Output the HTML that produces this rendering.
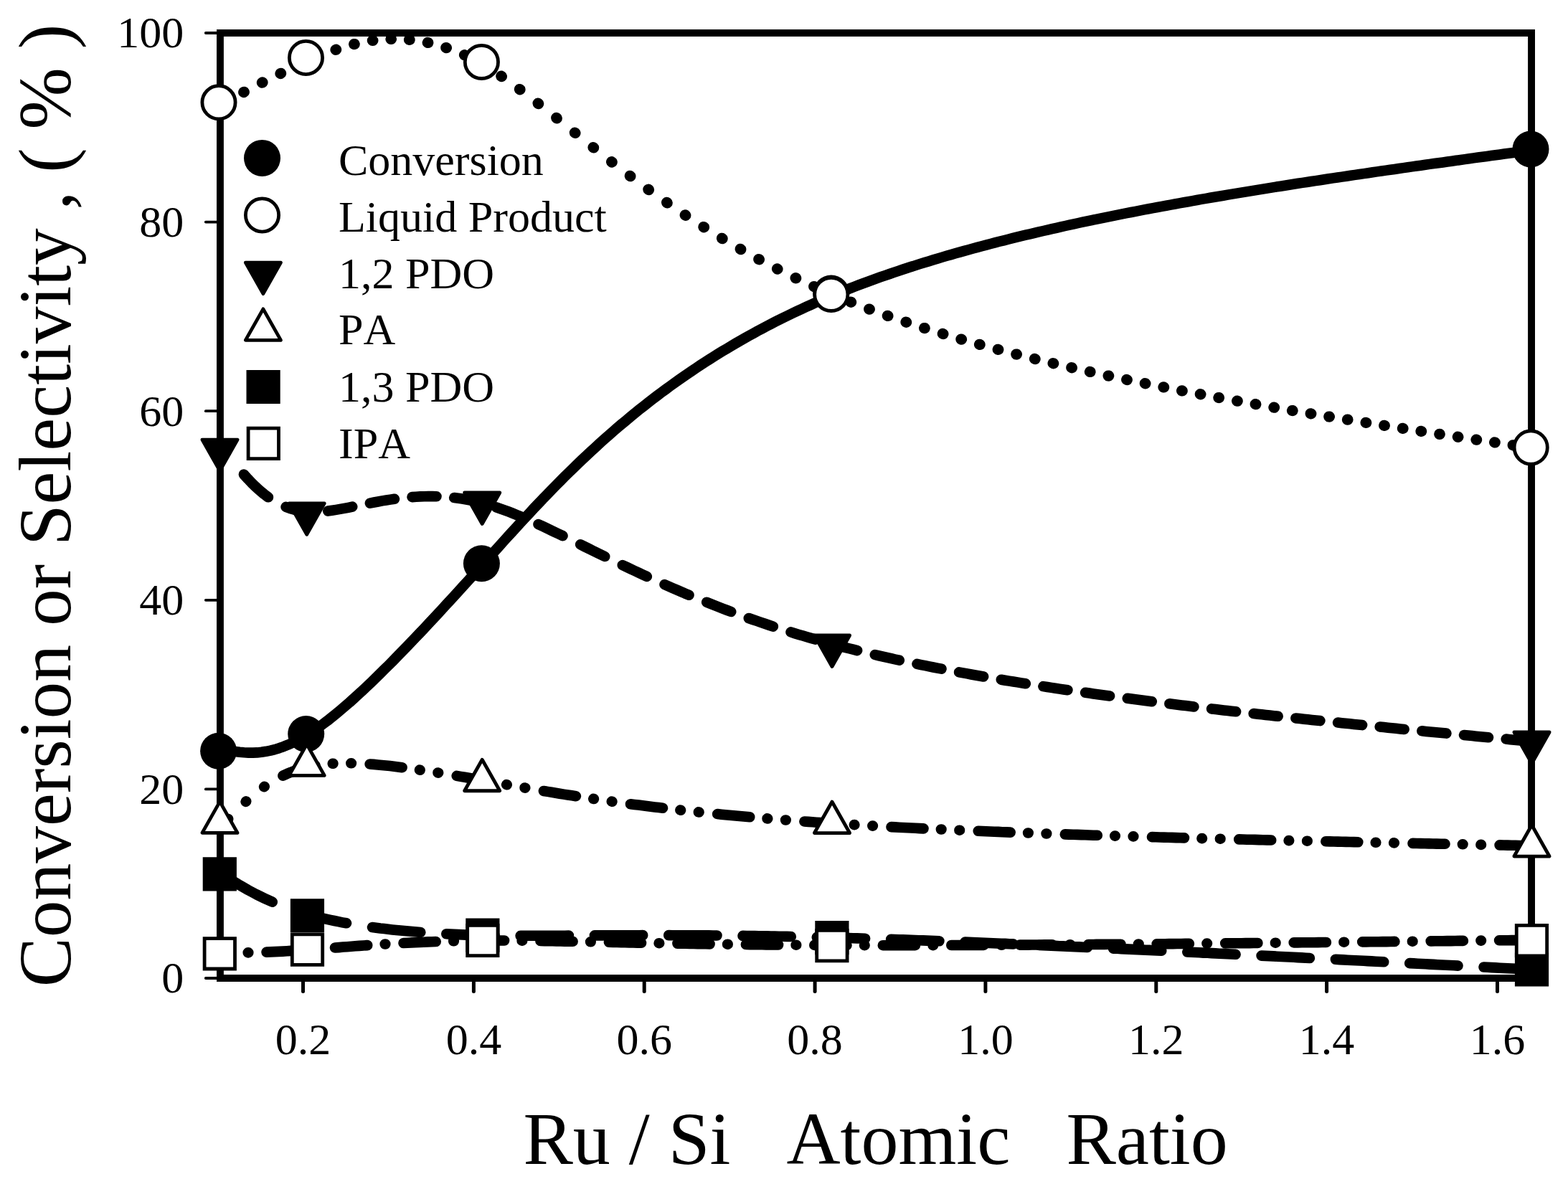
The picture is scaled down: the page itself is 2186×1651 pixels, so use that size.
<!DOCTYPE html>
<html lang="en"><head><meta charset="utf-8"><title>Conversion or Selectivity vs Ru / Si Atomic Ratio</title>
<style>html,body{margin:0;padding:0;background:#fff;}body{width:2186px;height:1651px;overflow:hidden;}svg{display:block;}text{font-kerning:none;font-family:"Liberation Serif",serif;white-space:pre;fill:#000;}</style></head><body>
<svg width="2186" height="1651" viewBox="0 0 2186 1651">
<rect width="2186" height="1651" fill="#fff"/>
<g id="frame">
<rect x="306.95" y="46.0" width="1828.10" height="1318.00" fill="none" stroke="#000" stroke-width="9.9"/>
</g>
<g id="y-axis">
<line x1="286.8" y1="1364.0" x2="306.95" y2="1364.0" stroke="#000" stroke-width="3.8" stroke-linecap="round"/>
<text x="256.3" y="1384.3" font-size="62" text-anchor="end">0</text>
<line x1="286.8" y1="1100.4" x2="306.95" y2="1100.4" stroke="#000" stroke-width="3.8" stroke-linecap="round"/>
<text x="256.3" y="1120.7" font-size="62" text-anchor="end">20</text>
<line x1="286.8" y1="836.8" x2="306.95" y2="836.8" stroke="#000" stroke-width="3.8" stroke-linecap="round"/>
<text x="256.3" y="857.1" font-size="62" text-anchor="end">40</text>
<line x1="286.8" y1="573.2" x2="306.95" y2="573.2" stroke="#000" stroke-width="3.8" stroke-linecap="round"/>
<text x="256.3" y="593.5" font-size="62" text-anchor="end">60</text>
<line x1="286.8" y1="309.6" x2="306.95" y2="309.6" stroke="#000" stroke-width="3.8" stroke-linecap="round"/>
<text x="256.3" y="329.9" font-size="62" text-anchor="end">80</text>
<line x1="286.8" y1="46.0" x2="306.95" y2="46.0" stroke="#000" stroke-width="3.8" stroke-linecap="round"/>
<text x="256.3" y="66.3" font-size="62" text-anchor="end">100</text>
</g>
<g id="x-axis">
<line x1="422.5" y1="1364.0" x2="422.5" y2="1382.6" stroke="#000" stroke-width="5.0" stroke-linecap="round"/>
<text x="422.5" y="1470" font-size="62" text-anchor="middle">0.2</text>
<line x1="660.4" y1="1364.0" x2="660.4" y2="1382.6" stroke="#000" stroke-width="5.0" stroke-linecap="round"/>
<text x="660.4" y="1470" font-size="62" text-anchor="middle">0.4</text>
<line x1="898.2" y1="1364.0" x2="898.2" y2="1382.6" stroke="#000" stroke-width="5.0" stroke-linecap="round"/>
<text x="898.2" y="1470" font-size="62" text-anchor="middle">0.6</text>
<line x1="1136.1" y1="1364.0" x2="1136.1" y2="1382.6" stroke="#000" stroke-width="5.0" stroke-linecap="round"/>
<text x="1136.1" y="1470" font-size="62" text-anchor="middle">0.8</text>
<line x1="1373.9" y1="1364.0" x2="1373.9" y2="1382.6" stroke="#000" stroke-width="5.0" stroke-linecap="round"/>
<text x="1373.9" y="1470" font-size="62" text-anchor="middle">1.0</text>
<line x1="1611.8" y1="1364.0" x2="1611.8" y2="1382.6" stroke="#000" stroke-width="5.0" stroke-linecap="round"/>
<text x="1611.8" y="1470" font-size="62" text-anchor="middle">1.2</text>
<line x1="1849.6" y1="1364.0" x2="1849.6" y2="1382.6" stroke="#000" stroke-width="5.0" stroke-linecap="round"/>
<text x="1849.6" y="1470" font-size="62" text-anchor="middle">1.4</text>
<line x1="2087.5" y1="1364.0" x2="2087.5" y2="1382.6" stroke="#000" stroke-width="5.0" stroke-linecap="round"/>
<text x="2087.5" y="1470" font-size="62" text-anchor="middle">1.6</text>
</g>
<g id="titles">
<text x="1220.6" y="1622.5" font-size="104" text-anchor="middle" xml:space="preserve">Ru / Si   Atomic   Ratio</text>
<text transform="translate(97.5,705) rotate(-90)" font-size="103.5" text-anchor="middle" xml:space="preserve">Conversion or Selectivity , ( % )</text>
</g>
<g id="series-conv">
<path d="M303.5,1043.5 L309.6,1044.8 L315.7,1046.0 L321.9,1047.1 L328.0,1048.0 L334.1,1048.8 L340.2,1049.3 L346.4,1049.6 L352.5,1049.6 L358.6,1049.4 L364.7,1048.8 L370.8,1047.8 L377.0,1046.6 L383.1,1045.1 L389.2,1043.2 L395.3,1041.1 L401.5,1038.6 L407.6,1035.9 L413.7,1032.9 L419.8,1029.6 L425.9,1026.0 L432.1,1022.2 L438.2,1018.2 L444.3,1014.0 L450.4,1009.5 L456.6,1004.9 L462.7,1000.1 L468.8,995.1 L474.9,990.0 L481.0,984.8 L487.2,979.5 L493.3,974.0 L499.4,968.4 L505.5,962.8 L511.7,957.0 L517.8,951.2 L523.9,945.3 L530.0,939.3 L536.1,933.2 L542.3,927.1 L548.4,921.0 L554.5,914.7 L560.6,908.4 L566.7,902.1 L572.9,895.7 L579.0,889.3 L585.1,882.9 L591.2,876.4 L597.4,869.8 L603.5,863.3 L609.6,856.7 L615.7,850.1 L621.8,843.4 L628.0,836.8 L634.1,830.1 L640.2,823.4 L646.3,816.6 L652.5,809.9 L658.6,803.1 L664.7,796.3 L670.8,789.5 L676.9,782.7 L683.1,775.9 L689.2,769.1 L695.3,762.3 L701.4,755.5 L707.6,748.7 L713.7,742.0 L719.8,735.3 L725.9,728.6 L732.0,722.0 L738.2,715.4 L744.3,708.8 L750.4,702.4 L756.5,695.9 L762.7,689.6 L768.8,683.2 L774.9,677.0 L781.0,670.8 L787.1,664.7 L793.3,658.6 L799.4,652.7 L805.5,646.7 L811.6,640.9 L817.8,635.1 L823.9,629.4 L830.0,623.8 L836.1,618.2 L842.2,612.7 L848.4,607.3 L854.5,601.9 L860.6,596.6 L866.7,591.4 L872.9,586.3 L879.0,581.2 L885.1,576.2 L891.2,571.2 L897.3,566.4 L903.5,561.5 L909.6,556.8 L915.7,552.1 L921.8,547.5 L928.0,543.0 L934.1,538.5 L940.2,534.1 L946.3,529.8 L952.4,525.5 L958.6,521.2 L964.7,517.1 L970.8,513.0 L976.9,508.9 L983.1,504.9 L989.2,501.0 L995.3,497.1 L1001.4,493.3 L1007.5,489.6 L1013.7,485.9 L1019.8,482.2 L1025.9,478.6 L1032.0,475.1 L1038.1,471.6 L1044.3,468.2 L1050.4,464.8 L1056.5,461.4 L1062.6,458.2 L1068.8,454.9 L1074.9,451.7 L1081.0,448.6 L1087.1,445.5 L1093.2,442.5 L1099.4,439.5 L1105.5,436.5 L1111.6,433.6 L1117.7,430.8 L1123.9,427.9 L1130.0,425.2 L1136.1,422.4 L1142.2,419.8 L1148.3,417.1 L1154.5,414.5 L1160.6,412.0 L1166.7,409.4 L1172.8,407.0 L1179.0,404.5 L1185.1,402.1 L1191.2,399.7 L1197.3,397.4 L1203.4,395.1 L1209.6,392.8 L1215.7,390.6 L1221.8,388.4 L1227.9,386.2 L1234.1,384.1 L1240.2,382.0 L1246.3,379.9 L1252.4,377.8 L1258.5,375.8 L1264.7,373.8 L1270.8,371.8 L1276.9,369.9 L1283.0,367.9 L1289.2,366.0 L1295.3,364.2 L1301.4,362.3 L1307.5,360.5 L1313.6,358.6 L1319.8,356.8 L1325.9,355.1 L1332.0,353.3 L1338.1,351.6 L1344.3,349.9 L1350.4,348.2 L1356.5,346.5 L1362.6,344.9 L1368.7,343.2 L1374.9,341.6 L1381.0,340.0 L1387.1,338.4 L1393.2,336.8 L1399.4,335.3 L1405.5,333.7 L1411.6,332.2 L1417.7,330.7 L1423.8,329.2 L1430.0,327.7 L1436.1,326.3 L1442.2,324.8 L1448.3,323.4 L1454.4,322.0 L1460.6,320.6 L1466.7,319.2 L1472.8,317.8 L1478.9,316.4 L1485.1,315.0 L1491.2,313.7 L1497.3,312.4 L1503.4,311.0 L1509.5,309.7 L1515.7,308.4 L1521.8,307.1 L1527.9,305.9 L1534.0,304.6 L1540.2,303.3 L1546.3,302.1 L1552.4,300.8 L1558.5,299.6 L1564.6,298.4 L1570.8,297.2 L1576.9,296.0 L1583.0,294.8 L1589.1,293.6 L1595.3,292.4 L1601.4,291.3 L1607.5,290.1 L1613.6,289.0 L1619.7,287.8 L1625.9,286.7 L1632.0,285.6 L1638.1,284.5 L1644.2,283.4 L1650.4,282.3 L1656.5,281.2 L1662.6,280.1 L1668.7,279.0 L1674.8,277.9 L1681.0,276.9 L1687.1,275.8 L1693.2,274.7 L1699.3,273.7 L1705.5,272.7 L1711.6,271.6 L1717.7,270.6 L1723.8,269.6 L1729.9,268.6 L1736.1,267.6 L1742.2,266.6 L1748.3,265.6 L1754.4,264.6 L1760.6,263.6 L1766.7,262.6 L1772.8,261.6 L1778.9,260.6 L1785.0,259.7 L1791.2,258.7 L1797.3,257.7 L1803.4,256.8 L1809.5,255.8 L1815.7,254.9 L1821.8,254.0 L1827.9,253.0 L1834.0,252.1 L1840.1,251.2 L1846.3,250.2 L1852.4,249.3 L1858.5,248.4 L1864.6,247.5 L1870.8,246.6 L1876.9,245.7 L1883.0,244.8 L1889.1,243.9 L1895.2,243.0 L1901.4,242.1 L1907.5,241.2 L1913.6,240.3 L1919.7,239.4 L1925.8,238.5 L1932.0,237.6 L1938.1,236.7 L1944.2,235.9 L1950.3,235.0 L1956.5,234.1 L1962.6,233.3 L1968.7,232.4 L1974.8,231.5 L1980.9,230.7 L1987.1,229.8 L1993.2,228.9 L1999.3,228.1 L2005.4,227.2 L2011.6,226.4 L2017.7,225.5 L2023.8,224.7 L2029.9,223.8 L2036.0,223.0 L2042.2,222.1 L2048.3,221.3 L2054.4,220.4 L2060.5,219.6 L2066.7,218.7 L2072.8,217.9 L2078.9,217.1 L2085.0,216.2 L2091.1,215.4 L2097.3,214.5 L2103.4,213.7 L2109.5,212.9 L2115.6,212.0 L2121.8,211.2 L2127.9,210.3 L2134.0,209.5" fill="none" stroke="#000" stroke-width="14.6" stroke-linecap="round" stroke-linejoin="round"/>
<circle cx="304.60" cy="1047.30" r="25.5" fill="#000"/>
<circle cx="426.70" cy="1023.50" r="25.5" fill="#000"/>
<circle cx="671.40" cy="785.70" r="25.5" fill="#000"/>
<circle cx="1158.80" cy="409.00" r="25.5" fill="#000"/>
<circle cx="2134.00" cy="208.00" r="25.5" fill="#000"/>
</g>
<g id="series-liq">
<path d="M314.1,142.6 L314.7,142.3 M339.7,128.6 L340.3,128.3 M365.4,115.2 L366.0,114.9 M391.0,102.6 L391.6,102.3 M416.7,90.7 L417.3,90.4 M442.3,79.4 L442.9,79.1 M468.0,69.4 L468.6,69.2 M493.6,61.6 L494.2,61.5 M519.3,56.5 L519.9,56.5 M544.9,54.4 L545.5,54.4 M570.5,55.3 L571.1,55.4 M596.2,59.4 L596.8,59.5 M621.8,66.5 L622.4,66.7 M647.5,76.7 L648.1,77.0 M673.1,90.1 L673.7,90.4 M698.8,106.2 L699.4,106.6 M724.4,124.5 L725.0,124.9 M750.1,144.1 L750.7,144.6 M775.7,164.4 L776.3,164.9 M801.4,185.0 L802.0,185.5 M827.0,205.5 L827.6,206.0 M852.6,225.7 L853.2,226.1 M878.3,245.3 L878.9,245.7 M903.9,264.2 L904.5,264.7 M929.6,282.4 L930.2,282.9 M955.2,299.9 L955.8,300.3 M980.9,316.5 L981.5,316.9 M1006.5,332.3 L1007.1,332.7 M1032.2,347.3 L1032.8,347.7 M1057.8,361.5 L1058.4,361.8 M1083.5,374.9 L1084.0,375.2 M1109.1,387.6 L1109.7,387.9 M1134.7,399.5 L1135.3,399.7 M1160.4,410.6 L1161.0,410.9 M1186.0,421.1 L1186.6,421.3 M1211.7,431.0 L1212.3,431.2 M1237.3,440.3 L1237.9,440.5 M1263.0,449.1 L1263.6,449.3 M1288.6,457.5 L1289.2,457.6 M1314.3,465.4 L1314.9,465.6 M1339.9,473.0 L1340.5,473.2 M1365.5,480.3 L1366.1,480.5 M1391.2,487.3 L1391.8,487.4 M1416.8,494.0 L1417.4,494.1 M1442.5,500.4 L1443.1,500.6 M1468.1,506.6 L1468.7,506.8 M1493.8,512.6 L1494.4,512.8 M1519.4,518.4 L1520.0,518.5 M1545.1,524.0 L1545.7,524.1 M1570.7,529.4 L1571.3,529.6 M1596.3,534.7 L1596.9,534.8 M1622.0,539.8 L1622.6,540.0 M1647.6,544.8 L1648.2,545.0 M1673.3,549.7 L1673.9,549.8 M1698.9,554.5 L1699.5,554.6 M1724.6,559.1 L1725.2,559.2 M1750.2,563.6 L1750.8,563.7 M1775.9,568.1 L1776.5,568.2 M1801.5,572.5 L1802.1,572.6 M1827.2,576.8 L1827.8,576.9 M1852.8,581.0 L1853.4,581.1 M1878.4,585.2 L1879.0,585.2 M1904.1,589.3 L1904.7,589.4 M1929.7,593.3 L1930.3,593.4 M1955.4,597.3 L1956.0,597.4 M1981.0,601.3 L1981.6,601.4 M2006.7,605.3 L2007.3,605.3 M2032.3,609.2 L2032.9,609.3 M2058.0,613.1 L2058.6,613.2 M2083.6,616.9 L2084.2,617.0 M2109.2,620.8 L2109.8,620.9 M2134.9,624.7 L2135.0,624.7" fill="none" stroke="#000" stroke-width="15.2" stroke-linecap="round" stroke-linejoin="round"/>
<circle cx="305.00" cy="142.80" r="23.1" fill="#fff" stroke="#000" stroke-width="4.8"/>
<circle cx="426.50" cy="80.45" r="23.1" fill="#fff" stroke="#000" stroke-width="4.8"/>
<circle cx="671.40" cy="86.40" r="23.1" fill="#fff" stroke="#000" stroke-width="4.8"/>
<circle cx="1158.80" cy="410.40" r="23.1" fill="#fff" stroke="#000" stroke-width="4.8"/>
<circle cx="2134.20" cy="624.00" r="23.1" fill="#fff" stroke="#000" stroke-width="4.8"/>
</g>
<g id="series-pdo12">
<path d="M309.8,623.6 L315.2,630.8 M339.9,661.5 L345.6,667.8 L351.2,673.7 L356.9,679.3 L362.6,684.4 L368.2,689.0 L373.9,693.3 M398.6,706.9 L404.2,708.9 L409.9,710.6 L415.6,711.9 L421.2,712.9 L426.9,713.6 L432.6,714.0 M457.2,712.6 L462.9,711.8 L468.6,710.9 L474.2,709.9 L479.9,708.9 L485.6,707.8 L491.2,706.6 M515.9,701.6 L521.5,700.5 L527.2,699.5 L532.9,698.4 L538.5,697.5 L544.2,696.6 L549.9,695.8 M574.5,693.1 L580.2,692.7 L585.9,692.4 L591.5,692.2 L597.2,692.1 L602.9,692.1 L608.5,692.2 M633.2,694.1 L638.9,694.8 L644.5,695.6 L650.2,696.6 L655.9,697.7 L661.5,698.9 L667.2,700.2 M691.9,707.3 L697.5,709.3 L703.2,711.3 L708.9,713.4 L714.5,715.6 L720.2,717.9 L725.9,720.3 M750.5,731.1 L756.2,733.7 L761.9,736.4 L767.5,739.1 L773.2,741.8 L778.9,744.5 L784.5,747.2 M809.2,759.3 L814.8,762.1 L820.5,764.9 L826.2,767.7 L831.8,770.5 L837.5,773.3 L843.2,776.0 M867.8,788.0 L873.5,790.7 L879.2,793.4 L884.8,796.0 L890.5,798.7 L896.2,801.3 L901.8,803.9 M926.5,815.1 L932.2,817.6 L937.8,820.1 L943.5,822.5 L949.2,824.9 L954.8,827.4 L960.5,829.7 M985.2,839.8 L990.8,842.1 L996.5,844.3 L1002.2,846.5 L1007.8,848.7 L1013.5,850.9 L1019.2,853.0 M1043.8,862.0 L1049.5,864.0 L1055.2,865.9 L1060.8,867.9 L1066.5,869.8 L1072.2,871.7 L1077.8,873.6 M1102.5,881.4 L1108.1,883.2 L1113.8,884.9 L1119.5,886.6 L1125.1,888.3 L1130.8,889.9 L1136.5,891.6 M1161.1,898.4 L1166.8,899.9 L1172.5,901.4 L1178.1,902.8 L1183.8,904.3 L1189.5,905.7 L1195.1,907.1 M1219.8,913.0 L1225.5,914.4 L1231.1,915.7 L1236.8,916.9 L1242.5,918.2 L1248.1,919.5 L1253.8,920.7 M1278.5,925.9 L1284.1,927.1 L1289.8,928.2 L1295.5,929.4 L1301.1,930.5 L1306.8,931.6 L1312.5,932.7 M1337.1,937.4 L1342.8,938.4 L1348.5,939.4 L1354.1,940.5 L1359.8,941.5 L1365.5,942.5 L1371.1,943.5 M1395.8,947.7 L1401.4,948.7 L1407.1,949.6 L1412.8,950.5 L1418.4,951.4 L1424.1,952.4 L1429.8,953.3 M1454.4,957.1 L1460.1,958.0 L1465.8,958.9 L1471.4,959.7 L1477.1,960.6 L1482.8,961.4 L1488.4,962.2 M1513.1,965.8 L1518.8,966.6 L1524.4,967.4 L1530.1,968.2 L1535.8,969.0 L1541.4,969.7 L1547.1,970.5 M1571.8,973.8 L1577.4,974.6 L1583.1,975.3 L1588.8,976.0 L1594.4,976.8 L1600.1,977.5 L1605.8,978.2 M1630.4,981.3 L1636.1,982.0 L1641.8,982.7 L1647.4,983.4 L1653.1,984.1 L1658.8,984.8 L1664.4,985.5 M1689.1,988.4 L1694.7,989.0 L1700.4,989.7 L1706.1,990.4 L1711.7,991.0 L1717.4,991.7 L1723.1,992.3 M1747.7,995.1 L1753.4,995.7 L1759.1,996.3 L1764.7,997.0 L1770.4,997.6 L1776.1,998.2 L1781.7,998.8 M1806.4,1001.5 L1812.1,1002.1 L1817.7,1002.7 L1823.4,1003.3 L1829.1,1003.9 L1834.7,1004.5 L1840.4,1005.1 M1865.1,1007.6 L1870.7,1008.2 L1876.4,1008.8 L1882.1,1009.3 L1887.7,1009.9 L1893.4,1010.5 L1899.1,1011.1 M1923.7,1013.5 L1929.4,1014.1 L1935.1,1014.7 L1940.7,1015.2 L1946.4,1015.8 L1952.1,1016.4 L1957.7,1016.9 M1982.4,1019.3 L1988.0,1019.9 L1993.7,1020.4 L1999.4,1021.0 L2005.0,1021.5 L2010.7,1022.1 L2016.4,1022.6 M2041.0,1025.0 L2046.7,1025.6 L2052.4,1026.1 L2058.0,1026.7 L2063.7,1027.2 L2069.4,1027.7 L2075.0,1028.3 M2099.7,1030.6 L2105.4,1031.2 L2111.0,1031.7 L2116.7,1032.3 L2122.4,1032.8 L2128.0,1033.3 L2133.7,1033.9" fill="none" stroke="#000" stroke-width="14.6" stroke-linecap="round" stroke-linejoin="round"/>
<polygon points="306.50,656.55 331.10,613.05 281.90,613.05" fill="#000" stroke="#000" stroke-width="4.8" stroke-linejoin="round"/>
<polygon points="427.70,745.35 452.30,701.85 403.10,701.85" fill="#000" stroke="#000" stroke-width="4.8" stroke-linejoin="round"/>
<polygon points="672.20,730.45 696.80,686.95 647.60,686.95" fill="#000" stroke="#000" stroke-width="4.8" stroke-linejoin="round"/>
<polygon points="1160.00,929.45 1184.60,885.95 1135.40,885.95" fill="#000" stroke="#000" stroke-width="4.8" stroke-linejoin="round"/>
<polygon points="2135.50,1064.45 2160.10,1020.95 2110.90,1020.95" fill="#000" stroke="#000" stroke-width="4.8" stroke-linejoin="round"/>
</g>
<g id="series-pa">
<path d="M309.8,1150.8 L314.0,1146.4 L318.2,1142.0 M342.6,1117.9 L343.2,1117.4 M368.1,1097.2 L368.7,1096.8 M394.4,1081.7 L400.0,1079.1 L405.6,1076.8 L411.3,1074.7 L416.9,1072.8 L422.5,1071.2 L428.1,1069.7 L433.8,1068.5 L439.4,1067.5 M463.8,1064.8 L464.4,1064.7 M489.3,1064.3 L489.9,1064.3 M515.6,1065.5 L521.2,1065.9 L526.8,1066.4 L532.4,1066.9 L538.1,1067.5 L543.7,1068.1 L549.3,1068.8 L554.9,1069.4 L560.6,1070.2 M585.0,1073.6 L585.6,1073.7 M610.5,1077.5 L611.1,1077.6 M636.7,1081.9 L642.3,1082.9 L648.0,1083.8 L653.6,1084.8 L659.2,1085.8 L664.8,1086.8 L670.5,1087.8 L676.1,1088.8 L681.7,1089.7 M706.1,1094.1 L706.7,1094.2 M731.6,1098.5 L732.2,1098.6 M757.9,1103.0 L763.5,1103.9 L769.1,1104.8 L774.8,1105.7 L780.4,1106.7 L786.0,1107.6 L791.6,1108.5 L797.3,1109.3 L802.9,1110.2 M827.3,1113.9 L827.9,1114.0 M852.8,1117.6 L853.4,1117.7 M879.0,1121.2 L884.7,1121.9 L890.3,1122.6 L895.9,1123.3 L901.5,1124.1 L907.2,1124.8 L912.8,1125.4 L918.4,1126.1 L924.0,1126.8 M948.4,1129.6 L949.0,1129.7 M973.9,1132.4 L974.5,1132.5 M1000.2,1135.1 L1005.8,1135.7 L1011.4,1136.2 L1017.1,1136.7 L1022.7,1137.3 L1028.3,1137.8 L1033.9,1138.3 L1039.6,1138.8 L1045.2,1139.3 M1069.6,1141.4 L1070.2,1141.5 M1095.1,1143.5 L1095.7,1143.5 M1121.4,1145.5 L1127.0,1145.9 L1132.6,1146.3 L1138.2,1146.7 L1143.9,1147.1 L1149.5,1147.5 L1155.1,1147.8 L1160.7,1148.2 L1166.4,1148.6 M1190.8,1150.1 L1191.4,1150.1 M1216.3,1151.6 L1216.9,1151.6 M1242.5,1153.1 L1248.1,1153.4 L1253.8,1153.7 L1259.4,1154.0 L1265.0,1154.2 L1270.6,1154.5 L1276.3,1154.8 L1281.9,1155.1 L1287.5,1155.4 M1311.9,1156.5 L1312.5,1156.5 M1337.4,1157.7 L1338.0,1157.7 M1363.7,1158.8 L1369.3,1159.0 L1374.9,1159.3 L1380.6,1159.5 L1386.2,1159.7 L1391.8,1159.9 L1397.4,1160.2 L1403.1,1160.4 L1408.7,1160.6 M1433.1,1161.5 L1433.7,1161.5 M1458.6,1162.5 L1459.2,1162.5 M1484.8,1163.4 L1490.5,1163.6 L1496.1,1163.7 L1501.7,1163.9 L1507.3,1164.1 L1513.0,1164.3 L1518.6,1164.5 L1524.2,1164.7 L1529.8,1164.8 M1554.2,1165.6 L1554.8,1165.6 M1579.7,1166.4 L1580.3,1166.4 M1606.0,1167.1 L1611.6,1167.3 L1617.2,1167.5 L1622.9,1167.6 L1628.5,1167.8 L1634.1,1167.9 L1639.8,1168.1 L1645.4,1168.3 L1651.0,1168.4 M1675.4,1169.1 L1676.0,1169.1 M1700.9,1169.7 L1701.5,1169.7 M1727.2,1170.4 L1732.8,1170.5 L1738.4,1170.7 L1744.0,1170.8 L1749.7,1170.9 L1755.3,1171.1 L1760.9,1171.2 L1766.5,1171.4 L1772.2,1171.5 M1796.6,1172.1 L1797.2,1172.1 M1822.1,1172.7 L1822.7,1172.7 M1848.3,1173.3 L1853.9,1173.4 L1859.6,1173.5 L1865.2,1173.6 L1870.8,1173.8 L1876.4,1173.9 L1882.1,1174.0 L1887.7,1174.1 L1893.3,1174.3 M1917.7,1174.8 L1918.3,1174.8 M1943.2,1175.3 L1943.8,1175.4 M1969.5,1175.9 L1975.1,1176.0 L1980.7,1176.1 L1986.4,1176.2 L1992.0,1176.4 L1997.6,1176.5 L2003.2,1176.6 L2008.9,1176.7 L2014.5,1176.8 M2038.9,1177.3 L2039.5,1177.3 M2064.4,1177.9 L2065.0,1177.9 M2090.6,1178.4 L2096.2,1178.5 L2101.8,1178.6 L2107.4,1178.7 L2113.0,1178.8 L2118.6,1179.0 L2124.1,1179.1 L2129.7,1179.2 L2135.3,1179.3" fill="none" stroke="#000" stroke-width="14.6" stroke-linecap="round" stroke-linejoin="round"/>
<polygon points="306.50,1117.85 331.10,1161.35 281.90,1161.35" fill="#fff" stroke="#000" stroke-width="4.8" stroke-linejoin="round"/>
<polygon points="427.70,1037.85 452.30,1081.35 403.10,1081.35" fill="#fff" stroke="#000" stroke-width="4.8" stroke-linejoin="round"/>
<polygon points="672.20,1059.25 696.80,1102.75 647.60,1102.75" fill="#fff" stroke="#000" stroke-width="4.8" stroke-linejoin="round"/>
<polygon points="1160.00,1118.05 1184.60,1161.55 1135.40,1161.55" fill="#fff" stroke="#000" stroke-width="4.8" stroke-linejoin="round"/>
<polygon points="2135.50,1150.55 2160.10,1194.05 2110.90,1194.05" fill="#fff" stroke="#000" stroke-width="4.8" stroke-linejoin="round"/>
</g>
<g id="series-pdo13">
<path d="M312.4,1220.8 L318.0,1224.4 L323.6,1227.9 L329.2,1231.3 L334.8,1234.7 L340.4,1237.9 L346.0,1241.1 L351.7,1244.1 L357.3,1247.1 L362.9,1249.9 L368.5,1252.6 L374.1,1255.2 L379.7,1257.7 M415.7,1271.1 L421.3,1272.8 L426.9,1274.4 L432.5,1276.0 L438.1,1277.5 L443.7,1278.9 L449.4,1280.3 L455.0,1281.6 L460.6,1282.8 L466.2,1284.0 L471.8,1285.2 L477.4,1286.3 L483.0,1287.3 M519.0,1293.0 L524.6,1293.7 L530.2,1294.5 L535.8,1295.1 L541.4,1295.8 L547.0,1296.4 L552.6,1297.0 L558.3,1297.6 L563.9,1298.1 L569.5,1298.6 L575.1,1299.1 L580.7,1299.6 L586.3,1300.0 M622.3,1302.3 L627.9,1302.6 L633.5,1302.9 L639.1,1303.1 L644.7,1303.4 L650.3,1303.6 L655.9,1303.7 L661.6,1303.9 L667.2,1304.1 L672.8,1304.2 L678.4,1304.3 L684.0,1304.4 L689.6,1304.5 M725.6,1304.8 L731.2,1304.8 L736.8,1304.8 L742.4,1304.8 L748.0,1304.8 L753.6,1304.8 L759.2,1304.8 L764.9,1304.8 L770.5,1304.8 L776.1,1304.7 L781.7,1304.7 L787.3,1304.7 L792.9,1304.6 M828.9,1304.4 L834.5,1304.4 L840.1,1304.4 L845.7,1304.3 L851.3,1304.3 L856.9,1304.3 L862.5,1304.2 L868.2,1304.2 L873.8,1304.2 L879.4,1304.2 L885.0,1304.2 L890.6,1304.2 L896.2,1304.1 M932.2,1304.1 L937.8,1304.2 L943.4,1304.2 L949.0,1304.2 L954.6,1304.2 L960.2,1304.2 L965.8,1304.3 L971.5,1304.3 L977.1,1304.3 L982.7,1304.4 L988.3,1304.4 L993.9,1304.5 L999.5,1304.5 M1035.5,1304.9 L1041.1,1305.0 L1046.7,1305.1 L1052.3,1305.1 L1057.9,1305.2 L1063.5,1305.3 L1069.2,1305.4 L1074.8,1305.5 L1080.4,1305.6 L1086.0,1305.7 L1091.6,1305.8 L1097.2,1305.9 L1102.8,1306.0 M1138.8,1306.9 L1144.4,1307.0 L1150.0,1307.1 L1155.6,1307.3 L1161.2,1307.4 L1166.8,1307.6 L1172.4,1307.7 L1178.1,1307.9 L1183.7,1308.0 L1189.3,1308.2 L1194.9,1308.4 L1200.5,1308.5 L1206.1,1308.7 M1242.1,1309.9 L1247.7,1310.1 L1253.3,1310.3 L1258.9,1310.4 L1264.5,1310.6 L1270.1,1310.8 L1275.8,1311.0 L1281.4,1311.2 L1287.0,1311.4 L1292.6,1311.6 L1298.2,1311.8 L1303.8,1312.1 L1309.4,1312.3 M1345.4,1313.6 L1351.0,1313.9 L1356.6,1314.1 L1362.2,1314.3 L1367.8,1314.5 L1373.4,1314.8 L1379.1,1315.0 L1384.7,1315.2 L1390.3,1315.5 L1395.9,1315.7 L1401.5,1315.9 L1407.1,1316.2 L1412.7,1316.4 M1448.7,1317.9 L1454.3,1318.2 L1459.9,1318.4 L1465.5,1318.7 L1471.1,1318.9 L1476.7,1319.2 L1482.3,1319.4 L1488.0,1319.7 L1493.6,1319.9 L1499.2,1320.2 L1504.8,1320.4 L1510.4,1320.7 L1516.0,1320.9 M1552.0,1322.6 L1557.6,1322.8 L1563.2,1323.1 L1568.8,1323.4 L1574.4,1323.6 L1580.0,1323.9 L1585.7,1324.1 L1591.3,1324.4 L1596.9,1324.7 L1602.5,1324.9 L1608.1,1325.2 L1613.7,1325.5 L1619.3,1325.7 M1655.3,1327.5 L1660.9,1327.8 L1666.5,1328.0 L1672.1,1328.3 L1677.7,1328.6 L1683.3,1328.8 L1688.9,1329.1 L1694.6,1329.4 L1700.2,1329.7 L1705.8,1329.9 L1711.4,1330.2 L1717.0,1330.5 L1722.6,1330.8 M1758.6,1332.6 L1764.2,1332.9 L1769.8,1333.1 L1775.4,1333.4 L1781.0,1333.7 L1786.6,1334.0 L1792.2,1334.3 L1797.9,1334.5 L1803.5,1334.8 L1809.1,1335.1 L1814.7,1335.4 L1820.3,1335.7 L1825.9,1336.0 M1861.9,1337.8 L1867.5,1338.1 L1873.1,1338.4 L1878.7,1338.7 L1884.3,1339.0 L1889.9,1339.2 L1895.6,1339.5 L1901.2,1339.8 L1906.8,1340.1 L1912.4,1340.4 L1918.0,1340.7 L1923.6,1341.0 L1929.2,1341.3 M1965.2,1343.1 L1970.8,1343.4 L1976.4,1343.7 L1982.0,1344.0 L1987.6,1344.3 L1993.2,1344.6 L1998.8,1344.9 L2004.5,1345.2 L2010.1,1345.5 L2015.7,1345.7 L2021.3,1346.0 L2026.9,1346.3 L2032.5,1346.6 M2068.5,1348.5 L2074.1,1348.8 L2079.7,1349.1 L2085.2,1349.4 L2090.8,1349.7 L2096.4,1350.0 L2101.9,1350.3 L2107.5,1350.5 L2113.1,1350.8 L2118.7,1351.1 L2124.2,1351.4 L2129.8,1351.7 L2135.4,1352.0" fill="none" stroke="#000" stroke-width="14.6" stroke-linecap="round" stroke-linejoin="round"/>
<polygon points="285.10,1197.70 327.50,1197.70 327.50,1240.10 285.10,1240.10" fill="#000" stroke="#000" stroke-width="4.8" stroke-linejoin="miter"/>
<polygon points="407.25,1255.55 449.65,1255.55 449.65,1297.95 407.25,1297.95" fill="#000" stroke="#000" stroke-width="4.8" stroke-linejoin="miter"/>
<polygon points="651.65,1283.00 694.05,1283.00 694.05,1325.40 651.65,1325.40" fill="#000" stroke="#000" stroke-width="4.8" stroke-linejoin="miter"/>
<polygon points="1138.70,1286.50 1181.10,1286.50 1181.10,1328.90 1138.70,1328.90" fill="#000" stroke="#000" stroke-width="4.8" stroke-linejoin="miter"/>
<polygon points="2114.30,1330.80 2156.70,1330.80 2156.70,1373.20 2114.30,1373.20" fill="#000" stroke="#000" stroke-width="4.8" stroke-linejoin="miter"/>
</g>
<g id="series-ipa">
<path d="M306.3,1328.8 L311.3,1328.8 L316.2,1328.7 L321.2,1328.7 M345.7,1328.4 L346.3,1328.4 M371.5,1327.6 L377.1,1327.4 L382.8,1327.1 L388.4,1326.9 L394.1,1326.6 L399.8,1326.3 L405.4,1325.9 L411.1,1325.6 L416.7,1325.2 M441.2,1323.5 L441.8,1323.4 M467.0,1321.5 L472.6,1321.1 L478.3,1320.6 L483.9,1320.2 L489.6,1319.8 L495.2,1319.3 L500.9,1318.9 L506.5,1318.5 L512.2,1318.1 M536.7,1316.5 L537.3,1316.5 M562.5,1315.0 L568.1,1314.7 L573.8,1314.4 L579.4,1314.2 L585.1,1313.9 L590.7,1313.7 L596.4,1313.4 L602.0,1313.2 L607.7,1313.0 M632.2,1312.3 L632.8,1312.3 M657.9,1311.8 L663.6,1311.7 L669.2,1311.6 L674.9,1311.6 L680.5,1311.6 L686.2,1311.5 L691.8,1311.5 L697.5,1311.5 L703.1,1311.5 M727.6,1311.7 L728.2,1311.7 M753.4,1312.0 L759.1,1312.1 L764.7,1312.2 L770.4,1312.3 L776.0,1312.4 L781.7,1312.5 L787.3,1312.6 L793.0,1312.7 L798.6,1312.8 M823.1,1313.3 L823.7,1313.3 M848.9,1313.8 L854.6,1313.9 L860.2,1314.0 L865.9,1314.1 L871.5,1314.3 L877.2,1314.4 L882.8,1314.5 L888.5,1314.6 L894.1,1314.7 M918.6,1315.2 L919.2,1315.2 M944.4,1315.6 L950.0,1315.7 L955.7,1315.8 L961.3,1315.9 L967.0,1316.0 L972.6,1316.1 L978.3,1316.2 L983.9,1316.3 L989.6,1316.4 M1014.1,1316.7 L1014.7,1316.7 M1039.9,1317.0 L1045.5,1317.1 L1051.2,1317.2 L1056.8,1317.2 L1062.5,1317.3 L1068.1,1317.4 L1073.8,1317.4 L1079.4,1317.5 L1085.1,1317.5 M1109.6,1317.7 L1110.2,1317.7 M1135.3,1317.9 L1141.0,1317.9 L1146.6,1317.9 L1152.3,1318.0 L1157.9,1318.0 L1163.6,1318.0 L1169.2,1318.0 L1174.9,1318.1 L1180.5,1318.1 M1205.0,1318.1 L1205.6,1318.1 M1230.8,1318.2 L1236.5,1318.2 L1242.1,1318.2 L1247.8,1318.2 L1253.4,1318.2 L1259.1,1318.2 L1264.7,1318.2 L1270.4,1318.1 L1276.0,1318.1 M1300.5,1318.1 L1301.1,1318.1 M1326.3,1318.0 L1332.0,1318.0 L1337.6,1318.0 L1343.3,1318.0 L1348.9,1318.0 L1354.6,1317.9 L1360.2,1317.9 L1365.9,1317.9 L1371.5,1317.9 M1396.0,1317.8 L1396.6,1317.8 M1421.8,1317.6 L1427.4,1317.6 L1433.1,1317.6 L1438.7,1317.5 L1444.4,1317.5 L1450.0,1317.5 L1455.7,1317.4 L1461.3,1317.4 L1467.0,1317.4 M1491.5,1317.2 L1492.1,1317.2 M1517.3,1317.0 L1522.9,1317.0 L1528.6,1316.9 L1534.2,1316.9 L1539.9,1316.9 L1545.5,1316.8 L1551.2,1316.8 L1556.8,1316.7 L1562.5,1316.7 M1587.0,1316.5 L1587.6,1316.5 M1612.7,1316.3 L1618.4,1316.2 L1624.0,1316.2 L1629.7,1316.1 L1635.3,1316.1 L1641.0,1316.0 L1646.6,1316.0 L1652.3,1315.9 L1657.9,1315.9 M1682.4,1315.6 L1683.0,1315.6 M1708.2,1315.4 L1713.9,1315.3 L1719.5,1315.3 L1725.2,1315.2 L1730.8,1315.2 L1736.5,1315.1 L1742.1,1315.1 L1747.8,1315.0 L1753.4,1315.0 M1777.9,1314.7 L1778.5,1314.7 M1803.7,1314.4 L1809.4,1314.4 L1815.0,1314.3 L1820.7,1314.3 L1826.3,1314.2 L1832.0,1314.2 L1837.6,1314.1 L1843.2,1314.0 L1848.9,1314.0 M1873.4,1313.7 L1874.0,1313.7 M1899.2,1313.4 L1904.8,1313.4 L1910.5,1313.3 L1916.1,1313.3 L1921.8,1313.2 L1927.4,1313.1 L1933.1,1313.1 L1938.7,1313.0 L1944.4,1312.9 M1968.9,1312.7 L1969.5,1312.7 M1994.7,1312.4 L2000.3,1312.3 L2006.0,1312.3 L2011.6,1312.2 L2017.3,1312.1 L2022.9,1312.1 L2028.6,1312.0 L2034.2,1311.9 L2039.9,1311.9 M2064.4,1311.6 L2065.0,1311.6 M2090.1,1311.3 L2095.8,1311.2 L2101.4,1311.2 L2107.1,1311.1 L2112.7,1311.1 L2118.4,1311.0 L2124.0,1310.9 L2129.7,1310.9 L2135.3,1310.8" fill="none" stroke="#000" stroke-width="14.6" stroke-linecap="round" stroke-linejoin="round"/>
<polygon points="285.10,1308.60 327.50,1308.60 327.50,1351.00 285.10,1351.00" fill="#fff" stroke="#000" stroke-width="4.8" stroke-linejoin="miter"/>
<polygon points="407.30,1302.90 449.70,1302.90 449.70,1345.30 407.30,1345.30" fill="#fff" stroke="#000" stroke-width="4.8" stroke-linejoin="miter"/>
<polygon points="651.65,1290.30 694.05,1290.30 694.05,1332.70 651.65,1332.70" fill="#fff" stroke="#000" stroke-width="4.8" stroke-linejoin="miter"/>
<polygon points="1138.70,1297.40 1181.10,1297.40 1181.10,1339.80 1138.70,1339.80" fill="#fff" stroke="#000" stroke-width="4.8" stroke-linejoin="miter"/>
<polygon points="2114.25,1290.40 2156.65,1290.40 2156.65,1332.80 2114.25,1332.80" fill="#fff" stroke="#000" stroke-width="4.8" stroke-linejoin="miter"/>
</g>
<g id="legend">
<circle cx="365.50" cy="220.40" r="25.5" fill="#000"/>
<text x="472" y="244.4" font-size="62">Conversion</text>
<circle cx="365.50" cy="299.95" r="23.1" fill="#fff" stroke="#000" stroke-width="4.8"/>
<text x="472" y="323.3" font-size="62">Liquid Product</text>
<polygon points="366.90,409.65 391.50,366.15 342.30,366.15" fill="#000" stroke="#000" stroke-width="4.8" stroke-linejoin="round"/>
<text x="472" y="401.6" font-size="62">1,2 PDO</text>
<polygon points="366.90,430.85 391.50,474.35 342.30,474.35" fill="#fff" stroke="#000" stroke-width="4.8" stroke-linejoin="round"/>
<text x="472" y="480.3" font-size="62">PA</text>
<polygon points="345.90,518.30 388.30,518.30 388.30,560.70 345.90,560.70" fill="#000" stroke="#000" stroke-width="4.8" stroke-linejoin="miter"/>
<text x="472" y="559.5" font-size="62">1,3 PDO</text>
<polygon points="346.10,597.20 388.50,597.20 388.50,639.60 346.10,639.60" fill="#fff" stroke="#000" stroke-width="4.8" stroke-linejoin="miter"/>
<text x="472" y="638.8" font-size="62">IPA</text>
</g>
</svg></body></html>
